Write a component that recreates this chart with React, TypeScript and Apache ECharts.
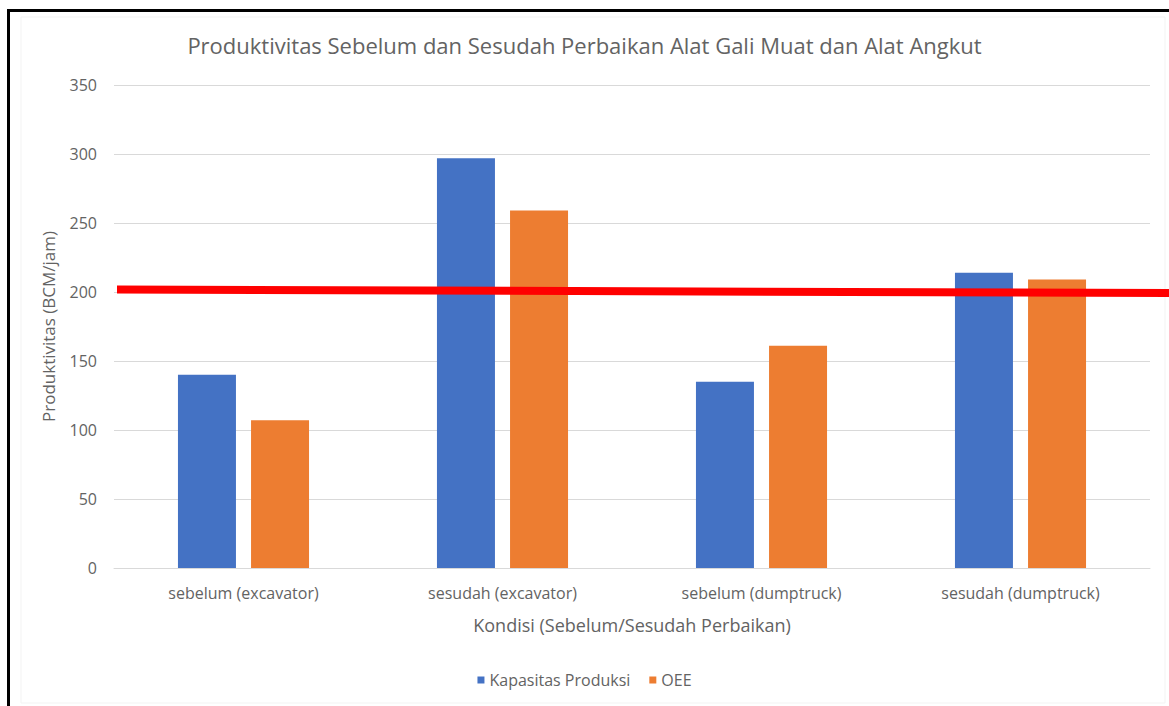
import React, { useEffect, useRef } from "react";
import * as echarts from "echarts";

const CATEGORIES = [
  "sebelum (excavator)",
  "sesudah (excavator)",
  "sebelum (dumptruck)",
  "sesudah (dumptruck)",
];
const KAPASITAS = [140, 297, 135, 214];
const OEE = [107, 259, 161, 209];
const Y_TICKS = [0, 50, 100, 150, 200, 250, 300, 350];
// red annotation line: value at its left end and right end
const RED_LINE = [201.8, 199.3];

const FONT = "'Open Sans', 'Noto Sans', sans-serif";
const TEXT = "#636363";

export default function App() {
  const ref = useRef<HTMLDivElement>(null);
  useEffect(() => {
    if (!ref.current) return;
    const chart = echarts.init(ref.current, undefined, { renderer: "svg" });
    chart.setOption({
      animation: false,
      backgroundColor: "#ffffff",
      textStyle: { fontFamily: FONT },
      title: {
        text: "Produktivitas Sebelum dan Sesudah Perbaikan Alat Gali Muat dan Alat Angkut",
        left: "center",
        top: 29,
        textStyle: { fontFamily: FONT, fontSize: 22, fontWeight: "normal", color: TEXT },
      },
      legend: {
        bottom: 13,
        left: "center",
        icon: "rect",
        itemWidth: 7,
        itemHeight: 7,
        itemGap: 19,
        textStyle: { fontFamily: FONT, fontSize: 16, color: TEXT },
        data: ["Kapasitas Produksi", "OEE"],
      },
      grid: { left: 114, right: 19, top: 85, bottom: 138 },
      xAxis: {
        type: "category",
        data: CATEGORIES,
        name: "Kondisi (Sebelum/Sesudah Perbaikan)",
        nameLocation: "middle",
        nameGap: 48,
        nameTextStyle: { fontFamily: FONT, fontSize: 18, color: TEXT },
        axisLine: { lineStyle: { color: "#d9d9d9" } },
        axisTick: { show: false },
        axisLabel: { fontFamily: FONT, fontSize: 16, color: TEXT, margin: 17 },
      },
      yAxis: {
        type: "value",
        min: Y_TICKS[0],
        max: Y_TICKS[Y_TICKS.length - 1],
        interval: 50,
        name: "Produktivitas (BCM/jam)",
        nameLocation: "middle",
        nameGap: 57,
        nameTextStyle: { fontFamily: FONT, fontSize: 17, color: TEXT },
        axisLine: { show: false },
        axisTick: { show: false },
        axisLabel: { fontFamily: FONT, fontSize: 16, color: TEXT, margin: 17 },
        splitLine: { lineStyle: { color: "#d9d9d9" } },
      },
      series: [
        {
          name: "Kapasitas Produksi",
          type: "bar",
          data: KAPASITAS,
          barWidth: 58,
          barGap: "26%",
          itemStyle: { color: "#4472C4" },
        },
        {
          name: "OEE",
          type: "bar",
          data: OEE,
          barWidth: 58,
          itemStyle: { color: "#ED7D31" },
        },
      ],
    });

    const yL = chart.convertToPixel({ yAxisIndex: 0 }, RED_LINE[0]) as number;
    const yR = chart.convertToPixel({ yAxisIndex: 0 }, RED_LINE[1]) as number;
    chart.setOption({
      graphic: [
        {
          type: "rect",
          shape: { x: 21, y: 17, width: 1144, height: 686 },
          style: { fill: "none", stroke: "#f3f3f3", lineWidth: 1 },
          silent: true,
          z: 0,
        },
        {
          type: "rect",
          shape: { x: 7, y: 9, width: 1162, height: 3 },
          style: { fill: "#000000" },
          silent: true,
          z: 100,
        },
        {
          type: "rect",
          shape: { x: 7, y: 9, width: 3, height: 697 },
          style: { fill: "#000000" },
          silent: true,
          z: 100,
        },
        {
          type: "line",
          shape: { x1: 117, y1: yL, x2: 1169, y2: yR },
          style: { stroke: "#ff0000", lineWidth: 8 },
          silent: true,
          z: 100,
        },
      ],
    });
    return () => chart.dispose();
  }, []);
  return (
    <div
      ref={ref}
      style={{ position: "fixed", left: 0, top: 0, width: 1169, height: 706 }}
    />
  );
}
